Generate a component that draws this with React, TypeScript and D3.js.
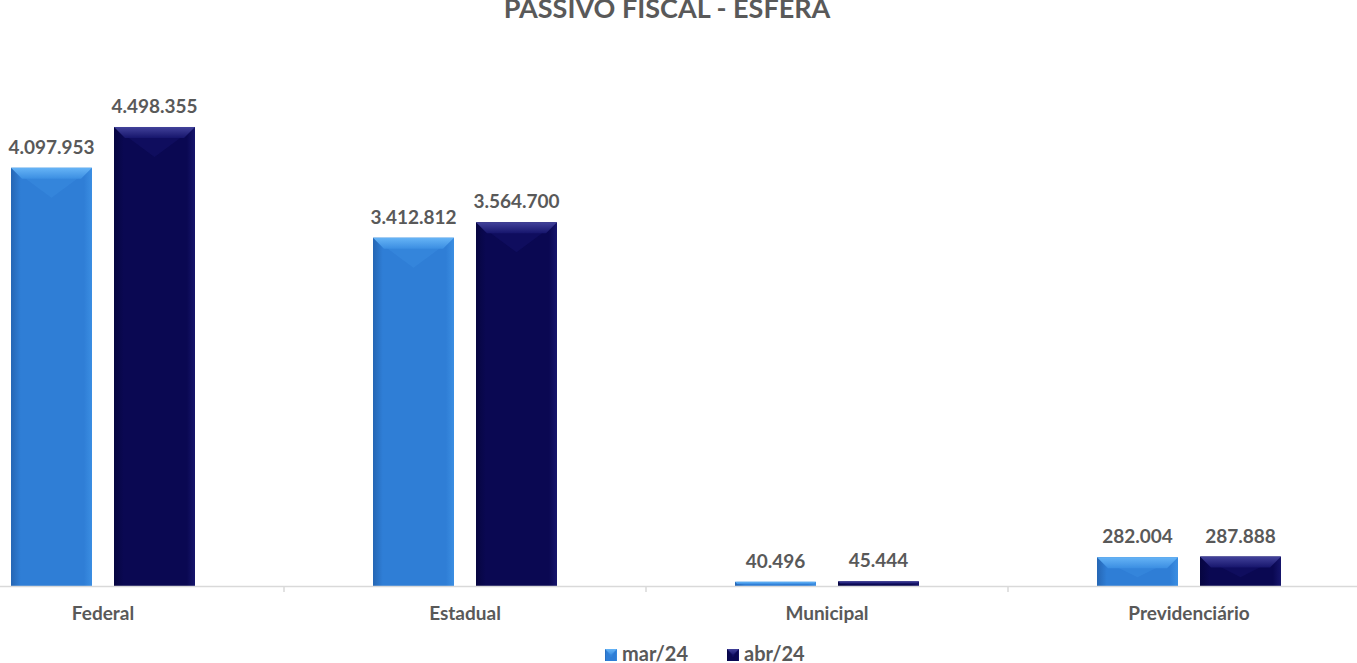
import React from 'react';
import * as d3 from 'd3';

const categories = ['Federal', 'Estadual', 'Municipal', 'Previdenciário'];
const seriesNames = ['mar/24', 'abr/24'];
const marValues = [4097953, 3412812, 40496, 282004];
const abrValues = [4498355, 3564700, 45444, 287888];

const W = 1357;
const H = 663;
const baseY = 586;
const textColor = '#595959';
const font = 'Lato, "Open Sans", sans-serif';

const palette = [
  { body: '#2f7ed6', dark: '#2566b4', light: '#66b4f6', mid: '#3b8ee2' },
  { body: '#0a0852', dark: '#060540', light: '#42429a', mid: '#16156c' },
];

const fmt = (v: number) => d3.format(',')(v).replace(/,/g, '.');

const Bar = ({ x, y, w, h, s }: { x: number; y: number; w: number; h: number; s: number }) => {
  const c = palette[s];
  const b = Math.min(11, h / 2);
  const v = Math.min(30, h * 0.7);
  return (
    <g>
      <rect x={x} y={y} width={w} height={h} fill={`url(#body${s})`} />
      <polygon points={`${x},${y} ${x + w / 2},${y + v} ${x + w},${y}`} fill={c.mid} opacity={0.45} />
      <polygon
        points={`${x},${y} ${x + w},${y} ${x + w - b},${y + b} ${x + b},${y + b}`}
        fill={`url(#top${s})`}
      />
    </g>
  );
};

export default function App() {
  const x = d3.scaleBand<string>().domain(categories).range([-78, 1370]).padding(0);
  const inner = d3.scaleBand<string>().domain(seriesNames).range([0, 184]).paddingInner(0.2136).paddingOuter(0);
  const offset = (x.bandwidth() - 184) / 2;
  const y = d3.scaleLinear().domain([0, 5000000]).range([baseY, baseY - 510.2]);
  const series = [marValues, abrValues];
  const boundaries = categories.slice(1).map((c) => x(c)!);

  return (
    <div style={{ position: 'absolute', left: 0, top: 0 }}>
      <svg width={W} height={H} style={{ display: 'block', background: '#fff' }}>
        <defs>
          {palette.map((c, s) => (
            <React.Fragment key={s}>
              <linearGradient id={`body${s}`} x1="0" x2="1" y1="0" y2="0">
                <stop offset="0" stopColor={c.dark} />
                <stop offset="0.12" stopColor={c.body} />
                <stop offset="0.9" stopColor={c.body} />
                <stop offset="1" stopColor={c.mid} />
              </linearGradient>
              <linearGradient id={`top${s}`} x1="0" x2="0" y1="0" y2="1">
                <stop offset="0" stopColor={c.light} />
                <stop offset="1" stopColor={c.mid} />
              </linearGradient>
            </React.Fragment>
          ))}
        </defs>

        <text x={667} y={18} textAnchor="middle" fontFamily={font} fontWeight={700} fontSize={27} fill={textColor}>
          PASSIVO FISCAL - ESFERA
        </text>

        {categories.map((cat, i) => (
          <g key={cat}>
            {series.map((vals, s) => {
              const bx = x(cat)! + offset + inner(seriesNames[s])!;
              const by = y(vals[i]);
              const bw = inner.bandwidth();
              return (
                <g key={s}>
                  <Bar x={bx} y={by} w={bw} h={baseY - by} s={s} />
                  <text
                    x={bx + bw / 2}
                    y={by - 14}
                    textAnchor="middle"
                    fontFamily={font}
                    fontWeight={700}
                    fontSize={19}
                    fill={textColor}
                  >
                    {fmt(vals[i])}
                  </text>
                </g>
              );
            })}
            <text
              x={x(cat)! + x.bandwidth() / 2}
              y={620}
              textAnchor="middle"
              fontFamily={font}
              fontWeight={700}
              fontSize={19}
              fill={textColor}
            >
              {cat}
            </text>
          </g>
        ))}

        <line x1={0} x2={W} y1={baseY + 0.5} y2={baseY + 0.5} stroke="#d9d9d9" strokeWidth={1.5} />
        {boundaries.map((bx) => (
          <line key={bx} x1={bx} x2={bx} y1={baseY} y2={baseY + 6} stroke="#d9d9d9" strokeWidth={1.5} />
        ))}

        {seriesNames.map((name, s) => {
          const lx = 605 + s * 122;
          return (
            <g key={name}>
              <Bar x={lx} y={649} w={12} h={12} s={s} />
              <text x={lx + 17} y={661} fontFamily={font} fontWeight={700} fontSize={20} fill={textColor}>
                {name}
              </text>
            </g>
          );
        })}
      </svg>
    </div>
  );
}
